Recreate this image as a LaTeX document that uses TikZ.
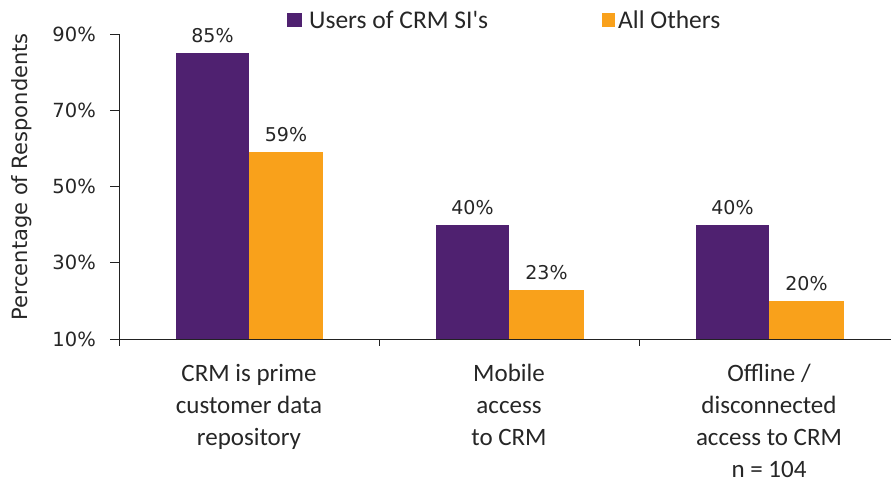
\documentclass[tikz,border=0pt]{standalone}
\usepackage{fontspec}
\setmainfont{Carlito}
\newfontfamily\dvs{DejaVu Sans}
\definecolor{crmpurple}{HTML}{4F2170}
\definecolor{crmorange}{HTML}{F9A11B}
\definecolor{axisgray}{HTML}{222222}
\begin{document}
\begin{tikzpicture}[x=1pt,y=-1pt,
  axisline/.style={draw=axisgray,line width=0.9pt},
  tick/.style={draw=axisgray,line width=0.9pt},
  pbar/.style={fill=crmpurple,draw=none},
  obar/.style={fill=crmorange,draw=none},
  ticklbl/.style={font=\dvs\fontsize{19.5}{22}\selectfont,text=black!85,anchor=east,inner sep=0pt},
  vallbl/.style={font=\dvs\fontsize{19}{22}\selectfont,text=black!85,inner sep=0pt},
  catlbl/.style={font=\fontsize{25}{32}\selectfont,text=black!85,align=center,anchor=north,inner sep=0pt},
  leglbl/.style={font=\fontsize{25.5}{28}\selectfont,text=black!85,anchor=west,inner sep=0pt}]
\useasboundingbox (0,0) rectangle (891,483);
% bars
\fill[pbar] (176,339) rectangle (249,53.3);
\fill[obar] (249,339) rectangle (323,152.3);
\fill[pbar] (436,339) rectangle (509,224.7);
\fill[obar] (509,339) rectangle (584,289.5);
\fill[pbar] (696,339) rectangle (769,224.7);
\fill[obar] (769,339) rectangle (844,300.9);
% axes
\coordinate (ytop) at (119,34.2);
\coordinate (orig) at (119,339);
\coordinate (xleft) at (110,339);
\coordinate (xright) at (891,339);
\draw[axisline] (ytop) -- (orig);
\draw[axisline] (xleft) -- (xright);
\foreach \v/\yy in {90/34.2,70/110.4,50/186.6,30/262.8,10/339}{
  \coordinate (yt\v) at (110,\yy);
  \coordinate (ya\v) at (119,\yy);
  \draw[tick] (yt\v) -- (ya\v);
  \node[ticklbl] (tl\v) at (96,\yy) {\v\%};
}
\foreach \xx/\n in {119/a,379/b,639/c}{
  \coordinate (xt\n) at (\xx,339);
  \coordinate (xb\n) at (\xx,346);
  \draw[tick] (xt\n) -- (xb\n);
}
% value labels
\node[vallbl] (v1) at (212.5,36) {85\%};
\node[vallbl] (v2) at (286,135) {59\%};
\node[vallbl] (v3) at (472.5,207.5) {40\%};
\node[vallbl] (v4) at (546.5,272.5) {23\%};
\node[vallbl] (v5) at (732.5,207.5) {40\%};
\node[vallbl] (v6) at (806.5,283.5) {20\%};
% category labels
\node[catlbl] (c1) at (249,364) {CRM is prime\\customer data\\repository};
\node[catlbl] (c2) at (509,364) {Mobile\\access\\to CRM};
\node[catlbl] (c3) at (769,364) {Offline /\\disconnected\\access to CRM\\n = 104};
% y label
\node[font=\dvs\fontsize{21}{24}\selectfont,text=black!85,rotate=90,inner sep=0pt] (ylab) at (22,177) {Percentage of Respondents};
% legend
\fill[pbar] (287,13) rectangle (302,27);
\node[leglbl] (l1) at (309,20) {Users of CRM SI\textquotesingle s};
\fill[obar] (602,13) rectangle (615,27);
\node[leglbl] (l2) at (618,20) {All Others};
\end{tikzpicture}
\end{document}
